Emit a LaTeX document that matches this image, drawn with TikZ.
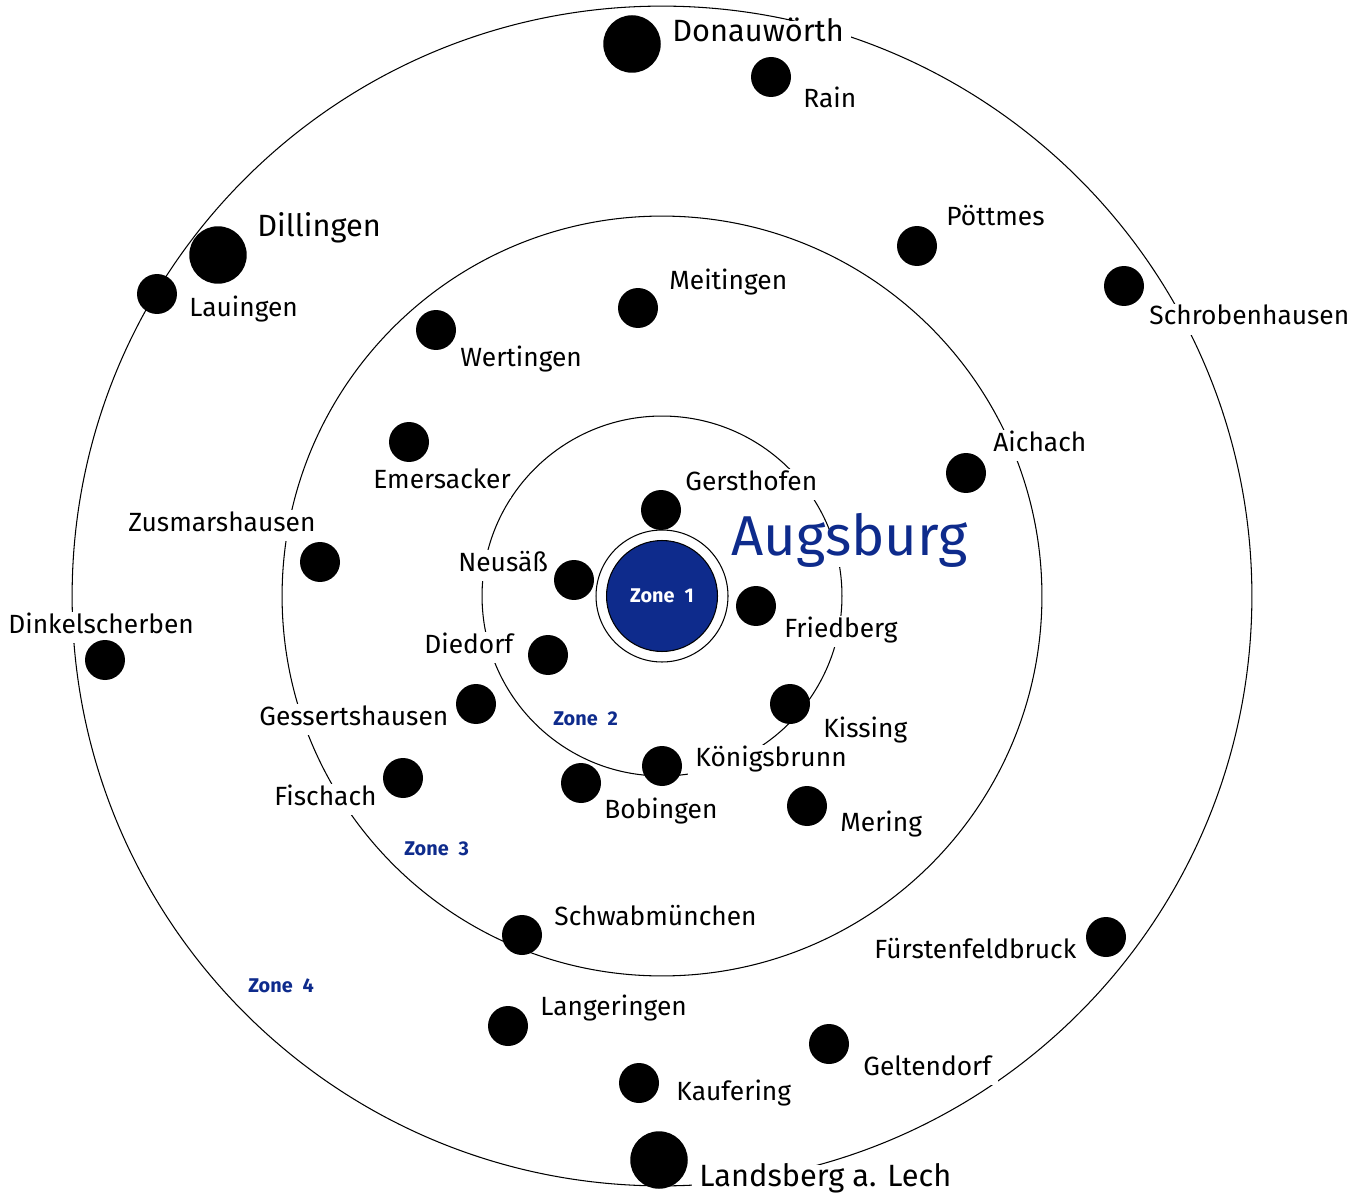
\documentclass[tikz,border=0pt]{standalone}
\usepackage{fontspec}
\setmainfont{Fira Sans}
\usepackage{xcolor}
\usepackage{tikz}
\usetikzlibrary{positioning}
\definecolor{zoneblue}{RGB}{14,43,140}

\begin{document}
\begin{tikzpicture}[
    x=0.02cm, y=-0.02cm,
    ring/.style={draw=black, line width=0.6pt},
    town/.style={
        anchor=base west,
        fill=white,
        inner xsep=4pt,
        inner ysep=2pt,
        text height=1em,
        text depth=0.35em,
        font=\fontsize{15}{18}\selectfont},
    bigtown/.style={town, font=\fontsize{17.5}{21}\selectfont},
    dot/.style={circle, fill=black, minimum size=0.8cm, inner sep=0pt},
    bigdot/.style={dot, minimum size=1.15cm},
    zonelabel/.style={anchor=base west, inner sep=0pt, text=zoneblue, font=\bfseries\fontsize{11.3}{13}\selectfont}]
    \useasboundingbox (0,0) rectangle (1368,1202);
    \coordinate (centre) at (662,596);
    % zone rings
    \draw[ring] (centre) circle[radius=11.8cm];
    \draw[ring] (centre) circle[radius=7.6cm];
    \draw[ring] (centre) circle[radius=3.6cm];
    \draw[ring] (centre) circle[radius=1.32cm];
    \node[circle, draw, line width=0.6pt, fill=zoneblue, minimum size=2.22cm, inner sep=0pt,
        text=white, font=\bfseries\fontsize{11.3}{13}\selectfont] (zone1) at (centre) {Zone\enspace 1};
    \node[zonelabel] (zone2) at (553,725) {Zone\enspace 2};
    \node[zonelabel] (zone3) at (404,855) {Zone\enspace 3};
    \node[zonelabel] (zone4) at (248,992) {Zone\enspace 4};
    % town names
    \node[town, text=zoneblue, inner sep=0pt, text height=0.85em, text depth=0.7em,
        font=\fontsize{32}{38}\selectfont] (augsburg) at (731,555) {Augsburg};
    \node[bigtown] (donauwoerthlbl) at (665,42) {Donauwörth};
    \node[bigtown] (dillingenlbl) at (250,237) {Dillingen};
    \node[bigtown] (landsberglbl) at (692,1186) {Landsberg a. Lech};
    \node[town] (rainlbl) at (796,108) {Rain};
    \node[town] (lauingenlbl) at (182,317) {Lauingen};
    \node[town] (poettmeslbl) at (939,226) {Pöttmes};
    \node[town] (schrobenhausenlbl) at (1142,325) {Schrobenhausen};
    \node[town] (meitingenlbl) at (662,290) {Meitingen};
    \node[town] (wertingenlbl) at (453,367) {Wertingen};
    \node[town] (aichachlbl) at (986,451) {Aichach};
    \node[town, inner xsep=0pt] (emersackerlbl) at (373,488) {Emersacker};
    \node[town] (gersthofenlbl) at (678,490) {Gersthofen};
    \node[town] (zusmarshausenlbl) at (121,531) {Zusmarshausen};
    \node[town] (neusaesslbl) at (451,571) {Neusäß};
    \node[town] (friedberglbl) at (777,637) {Friedberg};
    \node[town] (dinkelscherbenlbl) at (1,633) {Dinkelscherben};
    \node[town] (diedorflbl) at (417,653) {Diedorf};
    \node[town] (gessertshausenlbl) at (252,725) {Gessertshausen};
    \node[town] (kissinglbl) at (816,737) {Kissing};
    \node[town] (koenigsbrunnlbl) at (688,766) {Königsbrunn};
    \node[town] (fischachlbl) at (267,805) {Fischach};
    \node[town] (bobingenlbl) at (597,818) {Bobingen};
    \node[town] (meringlbl) at (833,831) {Mering};
    \node[town] (schwabmuenchenlbl) at (547,925) {Schwabmünchen};
    \node[town] (fuerstenfeldbrucklbl) at (867,958) {Fürstenfeldbruck};
    \node[town] (langeringenlbl) at (533,1015) {Langeringen};
    \node[town] (geltendorflbl) at (856,1075) {Geltendorf};
    \node[town] (kauferinglbl) at (669,1100) {Kaufering};
    % towns
    \node[bigdot] (donauwoerth) at (632,44) {};
    \node[bigdot] (dillingen) at (218,255) {};
    \node[bigdot] (landsberg) at (659,1160) {};
    \node[dot] (rain) at (771,77) {};
    \node[dot] (lauingen) at (157,294) {};
    \node[dot] (poettmes) at (917,246) {};
    \node[dot] (schrobenhausen) at (1124,286) {};
    \node[dot] (meitingen) at (638,308) {};
    \node[dot] (wertingen) at (436,330) {};
    \node[dot] (aichach) at (966,473) {};
    \node[dot] (emersacker) at (409,442) {};
    \node[dot] (gersthofen) at (661,510) {};
    \node[dot] (zusmarshausen) at (320,562) {};
    \node[dot] (neusaess) at (574,580) {};
    \node[dot] (friedberg) at (756,606) {};
    \node[dot] (dinkelscherben) at (105,660) {};
    \node[dot] (diedorf) at (548,655) {};
    \node[dot] (gessertshausen) at (476,704) {};
    \node[dot] (kissing) at (790,704) {};
    \node[dot] (koenigsbrunn) at (662,766) {};
    \node[dot] (fischach) at (403,778) {};
    \node[dot] (bobingen) at (581,783) {};
    \node[dot] (mering) at (807,806) {};
    \node[dot] (schwabmuenchen) at (522,935) {};
    \node[dot] (fuerstenfeldbruck) at (1106,937) {};
    \node[dot] (langeringen) at (508,1026) {};
    \node[dot] (geltendorf) at (829,1044) {};
    \node[dot] (kaufering) at (639,1083) {};
\end{tikzpicture}
\end{document}
